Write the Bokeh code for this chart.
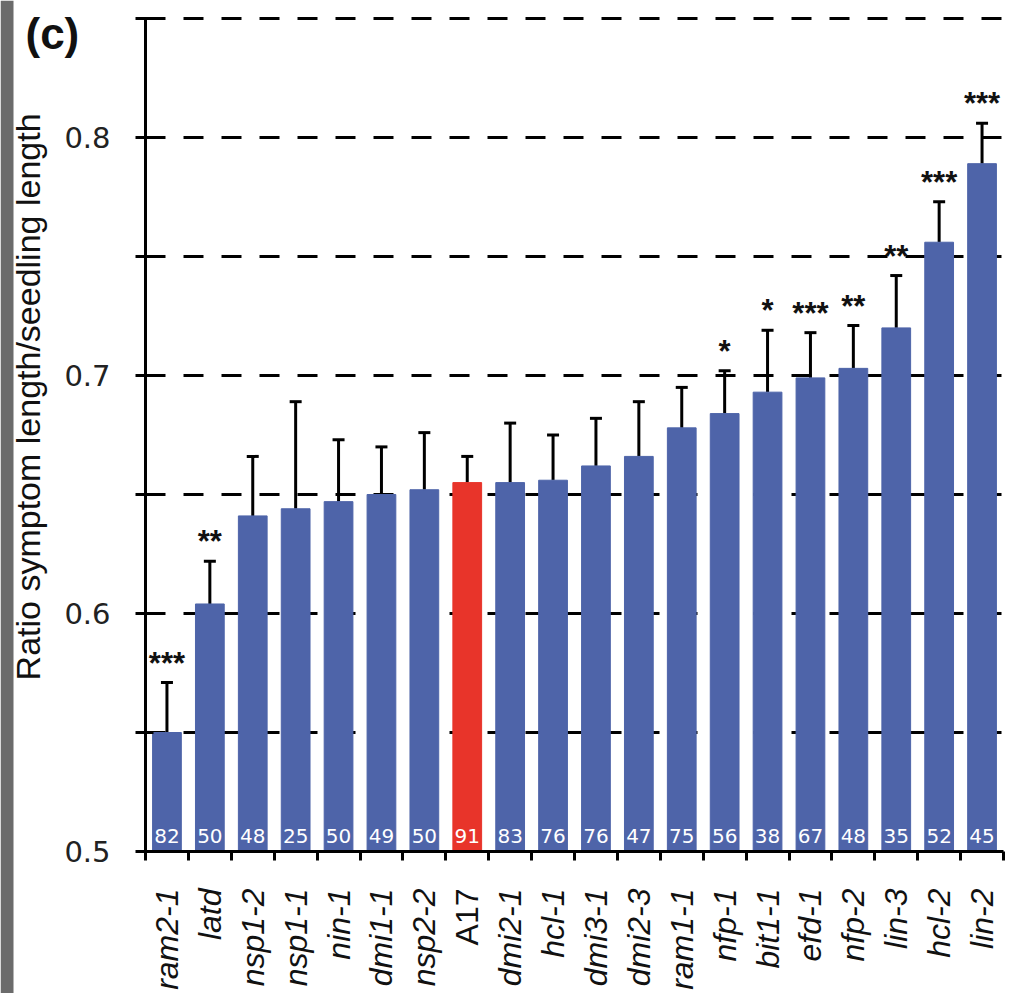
import math
from bokeh.plotting import figure
from bokeh.models import (ColumnDataSource, Range1d, FixedTicker, Whisker, TeeHead,
                          LabelSet, Label, CustomJSTickFormatter, BoxAnnotation)
from bokeh.core.properties import value, field
from bokeh.embed import file_html
from bokeh.resources import INLINE

# ---- data ----
names = ["ram2-1", "latd", "nsp1-2", "nsp1-1", "nin-1", "dmi1-1", "nsp2-2", "A17",
         "dmi2-1", "hcl-1", "dmi3-1", "dmi2-3", "ram1-1", "nfp-1", "bit1-1", "efd-1",
         "nfp-2", "lin-3", "hcl-2", "lin-2"]
values = [0.550, 0.604, 0.641, 0.644, 0.647, 0.650, 0.652, 0.655, 0.655, 0.656,
          0.662, 0.666, 0.678, 0.684, 0.693, 0.699, 0.703, 0.720, 0.756, 0.789]
errors = [0.021, 0.018, 0.025, 0.045, 0.026, 0.020, 0.024, 0.011, 0.025, 0.019,
          0.020, 0.023, 0.017, 0.018, 0.026, 0.019, 0.018, 0.022, 0.017, 0.017]
counts = [82, 50, 48, 25, 50, 49, 50, 91, 83, 76, 76, 47, 75, 56, 38, 67, 48, 35, 52, 45]
signif = ["***", "**", "", "", "", "", "", "", "", "", "", "", "", "*", "*", "***",
          "**", "**", "***", "***"]
highlight = "A17"
y_ticks = [0.5, 0.6, 0.7, 0.8]
y_minor = [0.55, 0.65, 0.75, 0.85]
grid_levels = [0.55, 0.6, 0.65, 0.7, 0.75, 0.8, 0.85]
y_lo, y_hi = 0.5, 0.85
y_title = "Ratio symptom length/seedling length"
panel_tag = "(c)"

BLUE = "#4E64A9"
RED = "#E8342A"

# ---- layout (pixels) ----
W, H = 1021, 993
frame_left, frame_right = 145, 1003      # x of category 0 and category N boundary
frame_top, frame_bottom = 18, 851        # y of y_hi and y_lo
ncat = len(names)
px_per_x = (frame_right - frame_left) / ncat
px_per_y = (frame_bottom - frame_top) / (y_hi - y_lo)
x_start = -frame_left / px_per_x
x_end = ncat + (W - frame_right) / px_per_x
y_end = y_hi + frame_top / px_per_y
y_start = y_lo - (H - frame_bottom) / px_per_y

xc = [i + 0.5 for i in range(ncat)]
src = ColumnDataSource(dict(
    xc=xc,
    name=names,
    val=values,
    upper=[v + e for v, e in zip(values, errors)],
    n=[str(c) for c in counts],
    sig=signif,
    color=[RED if nm == highlight else BLUE for nm in names],
    style=["normal" if nm == highlight else "italic" for nm in names],
))

p = figure(width=W, height=H,
           x_range=Range1d(x_start, x_end), y_range=Range1d(y_start, y_end),
           output_backend="svg", toolbar_location=None, title=None,
           min_border=0)
p.min_border_left = 0
p.min_border_right = 0
p.min_border_top = 0
p.min_border_bottom = 0
p.outline_line_color = None
p.background_fill_color = "white"
p.border_fill_color = "white"

p.xgrid.visible = False
p.ygrid.ticker = FixedTicker(ticks=grid_levels)
p.ygrid.grid_line_color = "black"
p.ygrid.grid_line_width = 3
p.ygrid.grid_line_dash = "20 18"
try:
    p.ygrid.cross_bounds = (0, ncat)
except Exception:
    pass

yax = p.yaxis[0]
yax.fixed_location = 0
yax.bounds = (y_lo, y_hi)
yax.ticker = FixedTicker(ticks=y_ticks, minor_ticks=y_minor)
yax.axis_line_width = 3
yax.axis_line_color = "black"
yax.major_tick_line_width = 3
yax.major_tick_in = 8
yax.major_tick_out = 10
yax.minor_tick_line_width = 3
yax.minor_tick_in = 8
yax.minor_tick_out = 10
yax.minor_tick_line_color = "black"
yax.major_label_text_font = "DejaVu Sans"
yax.major_label_text_font_size = "29px"
yax.major_label_text_color = "#222222"
yax.major_label_standoff = 25

xax = p.xaxis[0]
xax.fixed_location = y_lo
xax.bounds = (0, ncat)
xax.ticker = FixedTicker(ticks=list(range(ncat + 1)))
xax.formatter = CustomJSTickFormatter(code="return ''")
xax.axis_line_width = 3
xax.axis_line_color = "black"
xax.major_tick_line_width = 3
xax.major_tick_in = 0
xax.major_tick_out = 9
xax.minor_tick_line_color = None

# grey strip at the left edge of the scanned figure
p.add_layout(BoxAnnotation(right=13, right_units="screen", fill_color="#6b6b6b",
                           fill_alpha=1.0, line_color=None, level="underlay"))

p.vbar(x="xc", top="val", bottom=y_lo, width=0.67, fill_color="color",
       line_color="color", source=src)

p.add_layout(Whisker(base="xc", upper="upper", lower="val", source=src,
                     line_width=3, line_color="black",
                     upper_head=TeeHead(size=12, line_width=3, line_color="black"),
                     lower_head=None))

p.add_layout(LabelSet(x="xc", y=y_lo, text="n", source=src, y_offset=9,
                      text_align="center", text_baseline="alphabetic",
                      text_color="white", text_font=value("DejaVu Sans"),
                      text_font_size="20px"))

p.add_layout(LabelSet(x="xc", y="upper", text="sig", source=src, y_offset=9,
                      text_align="center", text_baseline="alphabetic",
                      text_color="#111111", text_font=value("Liberation Sans"),
                      text_font_size="31px", text_font_style="bold"))

p.add_layout(LabelSet(x="xc", y=y_lo, text="name", source=src, y_offset=-37,
                      angle=math.pi / 2, text_align="right", text_baseline="middle",
                      text_color="#111111", text_font=value("Liberation Sans"),
                      text_font_size="32px", text_font_style=field("style")))

p.add_layout(Label(x=0, y=y_hi, x_offset=-120, y_offset=10, text=panel_tag,
                   text_font="Liberation Sans", text_font_style="bold",
                   text_font_size="44px", text_align="left", text_baseline="top",
                   text_color="#111111"))

p.add_layout(Label(x=0, y=0.691, x_offset=-118, text=y_title, angle=math.pi / 2,
                   text_font="Liberation Sans", text_font_size="34px",
                   text_align="center", text_baseline="alphabetic",
                   text_color="#111111"))

open("out.html", "w").write(file_html(p, INLINE))
